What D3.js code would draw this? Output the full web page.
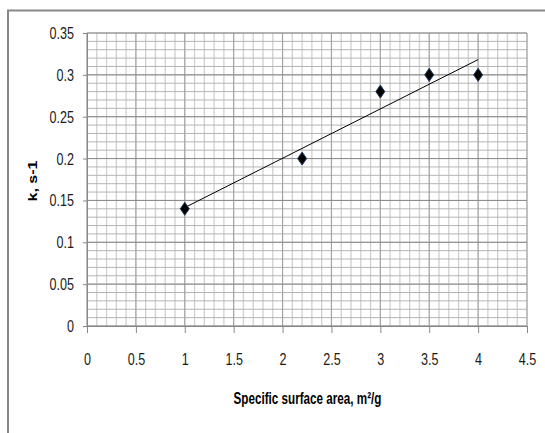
<!DOCTYPE html>
<html><head><meta charset="utf-8">
<script src="https://cdn.jsdelivr.net/npm/d3@7"></script>
<style>
html,body{margin:0;padding:0;background:#fff;}
svg{display:block;}
text{font-family:"Liberation Sans",Arial,sans-serif;}
</style></head>
<body>
<svg id="c" width="545" height="433"></svg>
<script>
const xValues = [1, 2.2, 3, 3.5, 4];
const kValues = [0.14, 0.2, 0.28, 0.3, 0.3];
const xTicks = [0, 0.5, 1, 1.5, 2, 2.5, 3, 3.5, 4, 4.5];
const yTicks = [0, 0.05, 0.1, 0.15, 0.2, 0.25, 0.3, 0.35];
const xTitle = "Specific surface area, m²/g";
const yTitle = "k, s-1";

(function(){
const svg = d3.select("#c");
const pL = 87, pR = 527, pT = 33, pB = 326;
const x = d3.scaleLinear().domain([0, 4.5]).range([pL, pR]);
const y = d3.scaleLinear().domain([0, 0.35]).range([pB, pT]);

svg.append("rect").attr("x", 8).attr("y", 10.5).attr("width", 600).attr("height", 600)
  .attr("fill", "none").attr("stroke", "#878787").attr("stroke-width", 2);

const g = svg.append("g");
const xMinor = d3.range(0, 4.5001, 0.1).map(v => +v.toFixed(2));
g.selectAll(".vmin").data(xMinor).join("line")
  .attr("x1", d => x(d)).attr("x2", d => x(d)).attr("y1", pT).attr("y2", pB)
  .attr("stroke", "#d0d0d0").attr("stroke-width", 1.3);
const yMinor = d3.range(0, 0.3501, 0.01).map(v => +v.toFixed(3));
g.selectAll(".hmin").data(yMinor).join("line")
  .attr("x1", pL).attr("x2", pR).attr("y1", d => y(d)).attr("y2", d => y(d))
  .attr("stroke", "#b4b4b4").attr("stroke-width", 1);
g.selectAll(".vmaj").data(xTicks).join("line")
  .attr("x1", d => x(d)).attr("x2", d => x(d)).attr("y1", pT).attr("y2", pB)
  .attr("stroke", "#a0a0a0").attr("stroke-width", 1);
g.selectAll(".hmaj").data(yTicks).join("line")
  .attr("x1", pL).attr("x2", pR).attr("y1", d => y(d)).attr("y2", d => y(d))
  .attr("stroke", "#8a8a8a").attr("stroke-width", 1);

const fmt = d => String(d);
const xAxis = svg.append("g").attr("transform", `translate(0,${pB})`)
  .call(d3.axisBottom(x).tickValues(xTicks).tickFormat(fmt).tickSize(7).tickPadding(20));
const yAxis = svg.append("g").attr("transform", `translate(${pL},0)`)
  .call(d3.axisLeft(y).tickValues(yTicks).tickFormat(fmt).tickSize(4).tickPadding(9));
const SX = 0.74;
[xAxis, yAxis].forEach(a => {
  a.attr("font-family", null).attr("font-size", null);
  a.select(".domain").attr("stroke", "#878787");
  a.selectAll(".tick line").attr("stroke", "#878787");
  a.selectAll(".tick text").each(function(){
    const t = d3.select(this);
    const tx = +t.attr("x") || 0, ty = +t.attr("y") || 0;
    t.attr("x", 0).attr("y", 0)
     .attr("transform", `translate(${tx},${ty}) scale(${SX},1)`)
     .attr("fill", "#1a1a1a").style("font-size", "17px");
  });
});

// trendline (least squares)
const n = xValues.length;
const mx = d3.mean(xValues), my = d3.mean(kValues);
let sxy = 0, sxx = 0;
for (let i = 0; i < n; i++) { sxy += (xValues[i]-mx)*(kValues[i]-my); sxx += (xValues[i]-mx)**2; }
const slope = sxy / sxx, icpt = my - slope * mx;
const x0 = d3.min(xValues), x1 = d3.max(xValues);
svg.append("line")
  .attr("x1", x(x0)).attr("y1", y(icpt + slope*x0))
  .attr("x2", x(x1)).attr("y2", y(icpt + slope*x1))
  .attr("stroke", "#000").attr("stroke-width", 1);

svg.selectAll(".pt").data(xValues.map((v,i)=>[v,kValues[i]])).join("path")
  .attr("transform", d => `translate(${x(d[0])},${y(d[1])})`)
  .attr("d", "M0,-6.5L4.5,0L0,6.5L-4.5,0Z")
  .attr("fill", "#000").attr("stroke", "#1f3a60").attr("stroke-width", 1);

svg.append("text").attr("transform", "translate(307.5,404) scale(0.73,1)").attr("text-anchor", "middle")
  .style("font-weight", "bold").style("font-size", "16px").attr("fill", "#000")
  .text(xTitle);
svg.append("text").attr("transform", "translate(37,181) rotate(-90)").attr("text-anchor", "middle")
  .style("font-weight", "bold").style("font-size", "12px").attr("fill", "#000")
  .attr("textLength", 41).attr("lengthAdjust", "spacingAndGlyphs")
  .text(yTitle);
})();
</script>
</body></html>
